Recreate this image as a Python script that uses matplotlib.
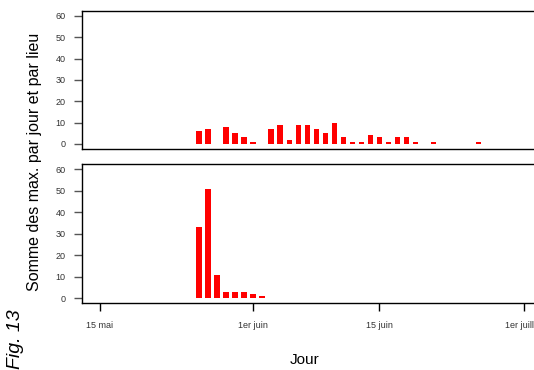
import matplotlib
matplotlib.use("Agg")
import matplotlib.pyplot as plt

plt.rcParams['font.family'] = ['Liberation Sans', 'DejaVu Sans']

# Day offsets counted from 15 May
top_days = [11, 12, 14, 15, 16, 17, 19, 20, 21, 22, 23, 24, 25, 26, 27, 28,
            29, 30, 31, 32, 33, 34, 35, 37, 42]
top_values = [6, 7, 8, 5, 3, 1, 7, 9, 2, 9, 9, 7, 5, 10, 3, 1,
              1, 4, 3, 1, 3, 3, 1, 1, 1]

bottom_days = [11, 12, 13, 14, 15, 16, 17, 18]
bottom_values = [33, 51, 11, 3, 3, 3, 2, 1]

xtick_days = [0, 17, 31, 47]
xtick_labels = ["15 mai", "1er juin", "15 juin", "1er juillet"]
ytick_values = [0, 10, 20, 30, 40, 50, 60]

W, H = 534, 370
fig = plt.figure(figsize=(W / 100, H / 100), dpi=100)

px_per_day = 9.02
left_px = 82.3
right_px = 580.0
x0 = -1.93
x1 = x0 + (right_px - left_px) / px_per_day

def make_axes(top_px, bottom_px):
    return fig.add_axes([left_px / W, 1 - bottom_px / H,
                         (right_px - left_px) / W, (bottom_px - top_px) / H])

ax_top = make_axes(10.7, 149.0)
ax_bot = make_axes(164.3, 303.3)

tick_color = "#333333"
for ax, days, vals in [(ax_top, top_days, top_values),
                       (ax_bot, bottom_days, bottom_values)]:
    ax.bar(days, vals, width=0.58, color="#ff0000", linewidth=0)
    ax.set_xlim(x0, x1)
    ax.set_ylim(-2.4, 62.4)
    ax.set_yticks(ytick_values)
    ax.set_yticklabels([str(v) for v in ytick_values])
    ax.tick_params(axis="y", length=6, width=1.0, pad=6, labelsize=6.5,
                   labelcolor=tick_color, color="#555555")
    for sp in ax.spines.values():
        sp.set_linewidth(1.0)
        sp.set_color("black")

ax_top.set_xticks([])
ax_bot.set_xticks(xtick_days)
ax_bot.set_xticklabels(xtick_labels)
ax_bot.tick_params(axis="x", length=6, width=1.0, pad=7, labelsize=6.5,
                   labelcolor=tick_color)

fig.text(35 / W, 1 - 162 / H, "Somme des max. par jour et par lieu",
         rotation=90, ha="center", va="center", fontsize=11.5)
fig.text(305 / W, 1 - 360 / H, "Jour", ha="center", va="center", fontsize=11)
fig.text(16 / W, 1 - 339 / H, "Fig. 13", rotation=90, ha="center",
         va="center", fontsize=14, style="italic")

fig.savefig("out.png", dpi=100)
